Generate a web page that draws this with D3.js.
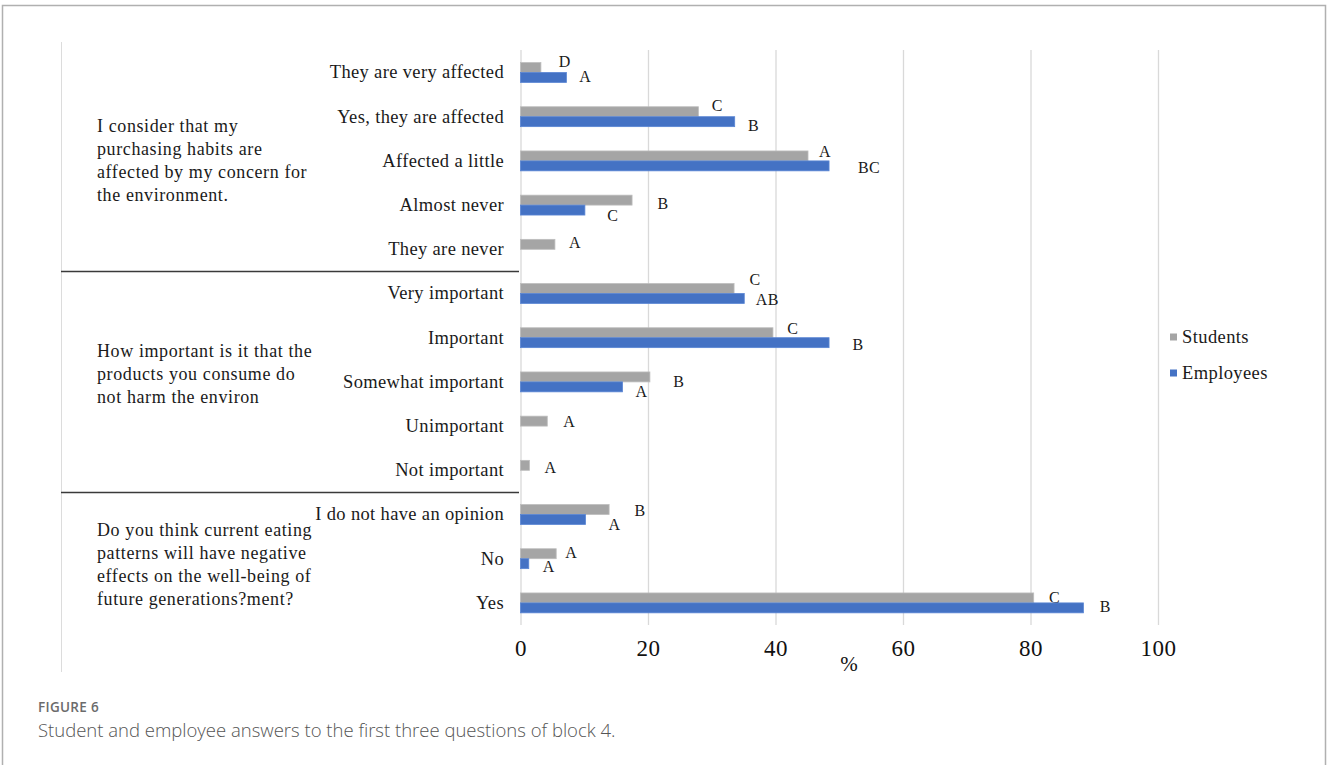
<!DOCTYPE html>
<html>
<head>
<meta charset="utf-8">
<script src="https://cdn.jsdelivr.net/npm/d3@7"></script>
<style>
  html, body { margin: 0; padding: 0; background: #fff; }
  svg { display: block; }
</style>
</head>
<body>
<svg id="chart" width="1328" height="765"></svg>
<script>
// Answer options, top to bottom
const categories = [
  "They are very affected", "Yes, they are affected", "Affected a little", "Almost never", "They are never",
  "Very important", "Important", "Somewhat important", "Unimportant", "Not important",
  "I do not have an opinion", "No", "Yes"
];

// Share of respondents (%)
const studentValues  = [3.2, 27.9, 45.1, 17.5, 5.4, 33.5, 39.6, 20.3, 4.2, 1.4, 13.9, 5.6, 80.5];
const employeeValues = [7.2, 33.6, 48.4, 10.1, null, 35.1, 48.4, 16.0, null, null, 10.2, 1.3, 88.3];

// Significance letters shown beside each bar
const studentLetters  = ["D", "C", "A", "B", "A", "C", "C", "B", "A", "A", "B", "A", "C"];
const employeeLetters = ["A", "B", "BC", "C", null, "AB", "B", "A", null, null, "A", "A", "B"];

// Hand placement of the letters: [dx, dy] from the bar end / bar centre
const studentLetterNudge  = [[24,-6],[19,-6],[17,-5],[31,3],[20,-2],[21,-9.5],[20,-4.7],[29,4],[22,0],[21,2],[31,0.5],[15,-1],[21,-1]];
const employeeLetterNudge = [[19,-1.5],[19,4],[40,2],[28,5],null,[23,0.5],[29,2],[19,5],null,null,[29,4.5],[20,3],[22,-1]];

// Question blocks: lines of text, and where each group ends
const questionLines = [
  ["I consider that my", "purchasing habits are", "affected by my concern for", "the environment."],
  ["How important is it that the", "products you consume do", "not harm the environ"],
  ["Do you think current eating", "patterns will have negative", "effects on the well-being of", "future generations?ment?"]
];
const questionFirstLineY = [126, 351, 530];
const groupEnds = ["They are never", "Not important"];

const xTicks = [0, 20, 40, 60, 80, 100];
const seriesNames = ["Students", "Employees"];
const seriesColors = ["#a5a5a5", "#4472c4"];
const seriesStrokes = ["#bdbdbd", "#5a86d4"];

const svg = d3.select("#chart");
const serif = "'Liberation Serif', 'DejaVu Serif', serif";

// Outer frame (open at the bottom)
svg.append("path")
  .attr("d", "M2.5,765 V5.5 H1325.5 V765")
  .attr("fill", "none").attr("stroke", "#b0b0b0").attr("stroke-width", 1.5);

// Left edge of plot area
svg.append("line")
  .attr("x1", 61.5).attr("x2", 61.5).attr("y1", 42).attr("y2", 672)
  .attr("stroke", "#dcdcdc").attr("stroke-width", 1);

const x = d3.scaleLinear().domain([0, 100]).range([520.5, 1158]);
const y = d3.scaleBand().domain(categories).range([50.4, 625])
  .paddingInner(0.55).paddingOuter(0.275);

const bw = y.bandwidth() / 2;

// Vertical gridlines
svg.append("g")
  .attr("transform", "translate(0,625)")
  .call(d3.axisBottom(x).tickValues(xTicks).tickSize(-575).tickFormat(""))
  .call(g => g.select(".domain").remove())
  .call(g => g.selectAll("line").attr("stroke", "#d9d9d9").attr("stroke-width", 1.3));

// Tick labels
svg.append("g")
  .attr("transform", "translate(0,639)")
  .call(d3.axisBottom(x).tickValues(xTicks).tickSize(0).tickPadding(0).tickFormat(d3.format("d")))
  .call(g => g.select(".domain").remove())
  .call(g => g.selectAll("text")
    .attr("font-family", serif).attr("font-size", 23).attr("fill", "#111")
    .attr("letter-spacing", 0.5)
    .attr("dy", "0.75em"));

// Axis unit
svg.append("text")
  .attr("x", 849).attr("y", 671)
  .attr("text-anchor", "middle")
  .attr("font-family", serif).attr("font-size", 21).attr("fill", "#111")
  .text("%");

// Category labels
svg.append("g")
  .attr("transform", "translate(508,0)")
  .call(d3.axisLeft(y).tickSize(0).tickPadding(4))
  .call(g => g.select(".domain").remove())
  .call(g => g.selectAll("text")
    .attr("font-family", serif).attr("font-size", 18.5).attr("fill", "#1a1a1a")
    .attr("letter-spacing", 0.35));

// Group separators
groupEnds.forEach(c => {
  const yy = y(c) + y.bandwidth() / 2 + y.step() / 2;
  svg.append("line")
    .attr("x1", 61).attr("x2", 519).attr("y1", yy).attr("y2", yy)
    .attr("stroke", "#3a3a3a").attr("stroke-width", 1.5);
});

// Question texts
questionLines.forEach((lines, qi) => {
  const t = svg.append("text")
    .attr("font-family", serif).attr("font-size", 18).attr("fill", "#1a1a1a")
    .attr("letter-spacing", 0.6);
  lines.forEach((ln, li) => {
    t.append("tspan")
      .attr("x", 97)
      .attr("y", questionFirstLineY[qi] + li * 22.8)
      .attr("dy", "0.35em")
      .text(ln);
  });
});

// Bars
const series = [studentValues, employeeValues];
const letters = [studentLetters, employeeLetters];
const nudges = [studentLetterNudge, employeeLetterNudge];

series.forEach((vals, si) => {
  const rows = categories.map((c, i) => ({ c, v: vals[i], l: letters[si][i], n: nudges[si][i] }));
  const g = svg.append("g");
  g.selectAll("rect")
    .data(rows.filter(d => d.v != null))
    .join("rect")
    .attr("x", x(0))
    .attr("y", d => y(d.c) + si * bw)
    .attr("width", d => x(d.v) - x(0))
    .attr("height", bw)
    .attr("fill", seriesColors[si])
    .attr("stroke", seriesStrokes[si])
    .attr("stroke-width", 0.8);

  g.selectAll("text")
    .data(rows.filter(d => d.v != null && d.l))
    .join("text")
    .attr("x", d => x(d.v) + d.n[0])
    .attr("y", d => y(d.c) + si * bw + bw / 2 + d.n[1])
    .attr("dy", "0.35em")
    .attr("text-anchor", "middle")
    .attr("font-family", serif).attr("font-size", 16).attr("fill", "#1a1a1a")
    .attr("letter-spacing", 0.5)
    .text(d => d.l);
});

// Legend
const legend = svg.append("g");
seriesNames.forEach((name, i) => {
  const ly = 337 + i * 36;
  legend.append("rect")
    .attr("x", 1170).attr("y", ly - 3.5).attr("width", 7).attr("height", 7)
    .attr("fill", seriesColors[i]);
  legend.append("text")
    .attr("x", 1182).attr("y", ly).attr("dy", "0.35em")
    .attr("font-family", serif).attr("font-size", 18.5).attr("fill", "#1a1a1a")
    .attr("letter-spacing", 0.4)
    .text(name);
});

// Caption
svg.append("text")
  .attr("x", 38).attr("y", 712)
  .attr("font-family", "'Open Sans', sans-serif").attr("font-size", 13.5)
  .attr("font-weight", 600).attr("fill", "#6b6b6b")
  .attr("letter-spacing", 0.3)
  .text("FIGURE 6");
svg.append("text")
  .attr("x", 38).attr("y", 737)
  .attr("font-family", "'Open Sans', sans-serif").attr("font-size", 18.5)
  .attr("font-weight", 300).attr("fill", "#555")
  .text("Student and employee answers to the first three questions of block 4.");
</script>
</body>
</html>
